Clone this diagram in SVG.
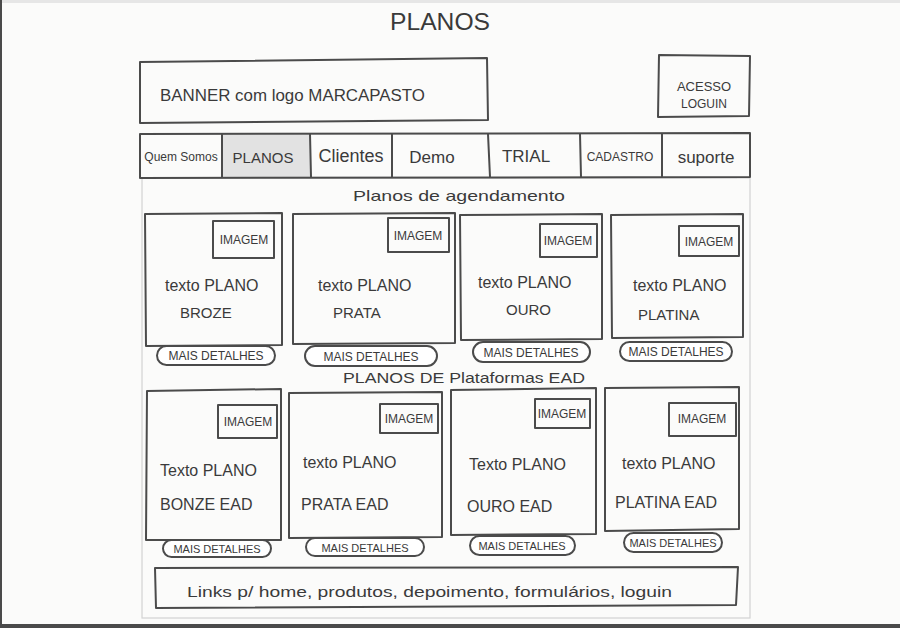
<svg xmlns="http://www.w3.org/2000/svg" width="900" height="628" viewBox="0 0 900 628">
  <style>
    .pen { fill: none; stroke: #4b4b4b; stroke-width: 2; stroke-linejoin: round; stroke-linecap: round; }
    .faint { fill: none; stroke: #d2d2d2; stroke-width: 1.2; }
    .pill { fill: #ffffff; stroke: #4b4b4b; stroke-width: 2; }
    .t { font-family: "Liberation Sans", "DejaVu Sans", sans-serif; fill: #3a3a3a; }
    .btn { text-anchor: middle; }
    .nav { text-anchor: middle; }
    .img { text-anchor: middle; }
  </style>

  <!-- paper -->
  <rect x="0" y="0" width="900" height="628" fill="#fbfbfa"/>
  <rect x="0" y="0" width="900" height="3" fill="#e6e6e6"/>
  <rect x="0" y="0" width="2" height="628" fill="#4a4a4a"/>
  <rect x="0" y="624" width="900" height="4" fill="#4a4a4a"/>

  <!-- page outline -->
  <rect class="faint" x="142" y="178" width="608" height="440"/>

  <!-- title -->
  <text class="t" x="390" y="30" font-size="24" textLength="100" lengthAdjust="spacingAndGlyphs">PLANOS</text>

  <!-- header -->
  <g id="banner">
    <path class="pen" d="M140 62 L487 58 L488 120 L140 123 Z"/>
    <text class="t" x="160" y="101" font-size="16" textLength="265" lengthAdjust="spacingAndGlyphs">BANNER com logo MARCAPASTO</text>
  </g>
  <g id="login">
    <path class="pen" d="M659 55 L750 56 L749 116 L658 117 Z"/>
    <text class="t" x="704" y="91" font-size="13" text-anchor="middle">ACESSO</text>
    <text class="t" x="704" y="108" font-size="12" text-anchor="middle">LOGUIN</text>
  </g>

  <!-- navigation -->
  <g id="nav">
    <rect x="222" y="134" width="88" height="43" fill="#e2e2e2"/>
    <path class="pen" d="M140 134 L750 133 L750 177 L140 178 Z"/>
    <path class="pen" d="M222 134 L222 177 M310 134 L311 177 M392 134 L392 177 M488 134 L490 177 M580 134 L581 177 M662 134 L662 177"/>
    <text class="t nav" x="181" y="161" font-size="12">Quem Somos</text>
    <text class="t nav" x="263" y="163" font-size="15">PLANOS</text>
    <text class="t nav" x="351" y="162" font-size="18">Clientes</text>
    <text class="t nav" x="432" y="163" font-size="17">Demo</text>
    <text class="t nav" x="526" y="162" font-size="17">TRIAL</text>
    <text class="t nav" x="620" y="161" font-size="12">CADASTRO</text>
    <text class="t nav" x="706" y="163" font-size="17">suporte</text>
  </g>

  <!-- section 1 -->
  <text class="t" x="353" y="201" font-size="15" textLength="212" lengthAdjust="spacingAndGlyphs">Planos de agendamento</text>

  <g id="plano-bronze">
    <path class="pen" d="M145 214 L282 213 L282 345 L146 346 Z"/>
    <path class="pen" d="M213 221 L274 221 L274 258 L213 258 Z"/>
    <text class="t img" x="244" y="244" font-size="12">IMAGEM</text>
    <text class="t" x="165" y="291" font-size="16">texto PLANO</text>
    <text class="t" x="180" y="318" font-size="15">BROZE</text>
    <rect class="pill" x="157" y="346" width="118" height="19" rx="9.5"/>
    <text class="t btn" x="216" y="360" font-size="12">MAIS DETALHES</text>
  </g>
  <g id="plano-prata">
    <path class="pen" d="M293 214 L455 213 L455 343 L293 344 Z"/>
    <path class="pen" d="M388 218 L449 218 L449 252 L388 252 Z"/>
    <text class="t img" x="418" y="240" font-size="12">IMAGEM</text>
    <text class="t" x="318" y="291" font-size="16">texto PLANO</text>
    <text class="t" x="333" y="318" font-size="15">PRATA</text>
    <rect class="pill" x="305" y="346" width="132" height="20" rx="10"/>
    <text class="t btn" x="371" y="361" font-size="12">MAIS DETALHES</text>
  </g>
  <g id="plano-ouro">
    <path class="pen" d="M460 215 L602 214 L602 339 L461 340 Z"/>
    <path class="pen" d="M540 224 L597 224 L597 257 L540 257 Z"/>
    <text class="t img" x="568" y="245" font-size="12">IMAGEM</text>
    <text class="t" x="478" y="288" font-size="16">texto PLANO</text>
    <text class="t" x="506" y="315" font-size="15">OURO</text>
    <rect class="pill" x="473" y="342" width="117" height="20" rx="10"/>
    <text class="t btn" x="531" y="357" font-size="12">MAIS DETALHES</text>
  </g>
  <g id="plano-platina">
    <path class="pen" d="M611 215 L743 214 L743 337 L612 338 Z"/>
    <path class="pen" d="M679 226 L739 226 L739 256 L679 256 Z"/>
    <text class="t img" x="709" y="246" font-size="12">IMAGEM</text>
    <text class="t" x="633" y="291" font-size="16">texto PLANO</text>
    <text class="t" x="638" y="320" font-size="15">PLATINA</text>
    <rect class="pill" x="620" y="342" width="112" height="19" rx="9.5"/>
    <text class="t btn" x="676" y="356" font-size="12">MAIS DETALHES</text>
  </g>

  <!-- section 2 -->
  <text class="t" x="343" y="383" font-size="15" textLength="242" lengthAdjust="spacingAndGlyphs">PLANOS DE Plataformas EAD</text>

  <g id="ead-bronze">
    <path class="pen" d="M147 391 L281 389 L281 540 L146 540 Z"/>
    <path class="pen" d="M218 405 L277 405 L277 438 L218 438 Z"/>
    <text class="t img" x="248" y="426" font-size="12">IMAGEM</text>
    <text class="t" x="160" y="476" font-size="16">Texto PLANO</text>
    <text class="t" x="160" y="510" font-size="16">BONZE EAD</text>
    <rect class="pill" x="163" y="540" width="108" height="17" rx="8.5"/>
    <text class="t btn" x="217" y="553" font-size="11">MAIS DETALHES</text>
  </g>
  <g id="ead-prata">
    <path class="pen" d="M289 393 L442 392 L442 537 L289 538 Z"/>
    <path class="pen" d="M380 404 L438 404 L438 433 L380 433 Z"/>
    <text class="t img" x="409" y="423" font-size="12">IMAGEM</text>
    <text class="t" x="303" y="468" font-size="16">texto PLANO</text>
    <text class="t" x="301" y="510" font-size="16">PRATA EAD</text>
    <rect class="pill" x="306" y="538" width="118" height="18" rx="9"/>
    <text class="t btn" x="365" y="552" font-size="11">MAIS DETALHES</text>
  </g>
  <g id="ead-ouro">
    <path class="pen" d="M451 390 L596 388 L596 534 L451 535 Z"/>
    <path class="pen" d="M535 399 L590 399 L590 428 L535 428 Z"/>
    <text class="t img" x="562" y="418" font-size="12">IMAGEM</text>
    <text class="t" x="469" y="470" font-size="16">Texto PLANO</text>
    <text class="t" x="467" y="512" font-size="16">OURO EAD</text>
    <rect class="pill" x="470" y="536" width="105" height="19" rx="9.5"/>
    <text class="t btn" x="522" y="550" font-size="11">MAIS DETALHES</text>
  </g>
  <g id="ead-platina">
    <path class="pen" d="M605 388 L739 387 L739 529 L605 531 Z"/>
    <path class="pen" d="M669 403 L736 403 L736 436 L669 436 Z"/>
    <text class="t img" x="702" y="423" font-size="12">IMAGEM</text>
    <text class="t" x="622" y="469" font-size="16">texto PLANO</text>
    <text class="t" x="615" y="508" font-size="16">PLATINA EAD</text>
    <rect class="pill" x="624" y="533" width="98" height="19" rx="9.5"/>
    <text class="t btn" x="673" y="547" font-size="11">MAIS DETALHES</text>
  </g>

  <!-- footer -->
  <g id="footer">
    <path class="pen" d="M155 568 L738 567 L736 605 L156 608 Z"/>
    <text class="t" x="187" y="597" font-size="15" textLength="485" lengthAdjust="spacingAndGlyphs">Links p/ home, produtos, depoimento, formulários, loguin</text>
  </g>
</svg>
